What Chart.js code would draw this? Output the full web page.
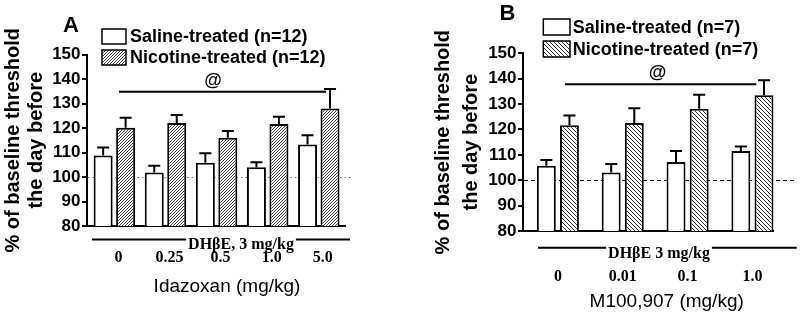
<!DOCTYPE html>
<html>
<head>
<meta charset="utf-8">
<script src="https://cdn.jsdelivr.net/npm/chart.js@4"></script>
<style>
  html, body { margin: 0; padding: 0; background: #fff; }
  .panel { position: absolute; top: 0; width: 400px; height: 314px; }
</style>
</head>
<body>
<div class="panel" style="left:0"><canvas id="chartA" width="400" height="314"></canvas></div>
<div class="panel" style="left:400px"><canvas id="chartB" width="400" height="314"></canvas></div>
<script>
// panel A: idazoxan
const dosesA = ['0', '0.25', '0.5', '1.0', '5.0'];
const salineA = [108.8, 101.8, 105.8, 104, 113.3];
const salineSemA = [3.2, 2.8, 3.9, 2, 3.7];
const nicotineA = [120.1, 122, 116, 121.6, 128];
const nicotineSemA = [4.1, 3.3, 2.8, 3, 7.9];

// panel B: M100,907
const dosesB = ['0', '0.01', '0.1', '1.0'];
const salineB = [105.7, 103, 107.2, 111.5];
const salineSemB = [2.3, 3.4, 4.3, 1.8];
const nicotineB = [121.7, 122.5, 128.2, 133.5];
const nicotineSemB = [3.8, 5.9, 5.5, 5.9];

const yMin = 80, yMax = 150, yStep = 10;

const SANS = "Arial, 'Liberation Sans', sans-serif";
const SERIF = "'Times New Roman', 'Liberation Serif', serif";

function hatch(dir, size, color) {
  const c = document.createElement('canvas');
  c.width = size; c.height = size;
  const g = c.getContext('2d');
  g.fillStyle = '#fff';
  g.fillRect(0, 0, size, size);
  g.fillStyle = color;
  for (let i = 0; i < size; i++) {
    g.fillRect(i, dir === '/' ? size - 1 - i : i, 1, 1);
  }
  return g.createPattern(c, 'repeat');
}

function makeDecor(p) {
  return {
    id: 'decor',
    beforeDatasetsDraw(chart) {
      const {ctx, chartArea: a, scales: {y}} = chart;
      const py = Math.round(y.getPixelForValue(100)) + 0.5;
      ctx.save();
      ctx.strokeStyle = p.ref.color;
      ctx.lineWidth = 1;
      ctx.setLineDash(p.ref.dash);
      ctx.beginPath();
      ctx.moveTo(a.left + 1, py);
      ctx.lineTo(p.ref.right, py);
      ctx.stroke();
      ctx.restore();
    },
    afterDatasetsDraw(chart) {
      const {ctx, scales: {y}} = chart;
      ctx.save();
      ctx.strokeStyle = '#000';
      ctx.lineWidth = 2;
      chart.data.datasets.forEach((ds, i) => {
        chart.getDatasetMeta(i).data.forEach((bar, j) => {
          const top = y.getPixelForValue(ds.data[j].y + ds.sem[j]);
          ctx.beginPath();
          ctx.moveTo(bar.x, bar.y);
          ctx.lineTo(bar.x, top);
          ctx.moveTo(bar.x - 6, top);
          ctx.lineTo(bar.x + 6, top);
          ctx.stroke();
        });
      });
      ctx.restore();
    },
    afterDraw(chart) {
      const {ctx, scales: {x, y}} = chart;
      ctx.save();
      ctx.fillStyle = '#000';
      ctx.strokeStyle = '#000';

      // panel letter
      ctx.font = 'bold 22px ' + SANS;
      ctx.textAlign = 'center';
      ctx.textBaseline = 'middle';
      ctx.fillText(p.letter.text, p.letter.x, p.letter.y);

      // legend
      const lg = p.legend;
      chart.data.datasets.forEach((ds, i) => {
        const ly = lg.y[i];
        ctx.fillStyle = ds.backgroundColor;
        ctx.fillRect(lg.x, ly, lg.w, lg.h);
        ctx.lineWidth = 1.5;
        ctx.strokeRect(lg.x, ly, lg.w, lg.h);
        ctx.fillStyle = '#000';
        ctx.font = 'bold 18px ' + SANS;
        ctx.textAlign = 'left';
        ctx.fillText(ds.label, lg.textX, ly + lg.h / 2 + 1);
      });

      // significance line
      const sy = y.getPixelForValue(p.sig.y);
      ctx.lineWidth = 2;
      ctx.beginPath();
      ctx.moveTo(x.getPixelForValue(p.sig.from), sy);
      ctx.lineTo(x.getPixelForValue(p.sig.to), sy);
      ctx.stroke();
      ctx.font = 'bold 18px ' + SANS;
      ctx.textAlign = 'center';
      ctx.textBaseline = 'bottom';
      ctx.fillText('@', x.getPixelForValue(p.sig.at), sy - 2);

      // DHbE bracket
      const d = p.dhbe;
      ctx.font = 'bold 16px ' + SERIF;
      const tw = ctx.measureText(d.text).width;
      ctx.lineWidth = 2;
      ctx.beginPath();
      ctx.moveTo(d.x1, d.y);
      ctx.lineTo(d.cx - tw / 2 - 2, d.y);
      ctx.moveTo(d.cx + tw / 2 + 2, d.y);
      ctx.lineTo(d.x2, d.y);
      ctx.stroke();
      ctx.textBaseline = 'middle';
      ctx.fillText(d.text, d.cx, d.ty);

      // x axis title
      ctx.font = '19px ' + SANS;
      ctx.fillText(p.xTitle.text, p.xTitle.x, p.xTitle.y);
      ctx.restore();
    }
  };
}

function makePanel(id, p) {
  const ctx = document.getElementById(id).getContext('2d');
  const common = {
    borderColor: '#000',
    borderWidth: 2,
    borderSkipped: false,
    categoryPercentage: p.catPct,
    barPercentage: p.barPct
  };
  return new Chart(ctx, {
    type: 'bar',
    data: {
      datasets: [
        Object.assign({
          label: p.labels[0],
          data: p.saline.map((v, i) => ({x: i, y: v})),
          sem: p.salineSem,
          backgroundColor: '#fff'
        }, common),
        Object.assign({
          label: p.labels[1],
          data: p.nicotine.map((v, i) => ({x: i, y: v})),
          sem: p.nicotineSem,
          backgroundColor: p.pattern
        }, common)
      ]
    },
    options: {
      responsive: false,
      animation: false,
      events: [],
      layout: {padding: {left: 0, top: p.area.top, right: 400 - p.area.right, bottom: 0}},
      plugins: {legend: {display: false}, tooltip: {enabled: false}},
      scales: {
        x: {
          type: 'linear',
          offset: false,
          min: p.xMin,
          max: p.xMax,
          afterBuildTicks: s => { s.ticks = p.doses.map((d, i) => ({value: i})); },
          afterFit: s => { s.height = 314 - p.area.bottom; },
          grid: {display: false, drawTicks: false},
          border: {color: '#000', width: 2},
          ticks: {
            autoSkip: false,
            maxRotation: 0,
            padding: p.tickPad,
            labelOffset: p.labelOffset,
            color: '#000',
            font: {family: SERIF, weight: 'bold', size: 16},
            callback: v => p.doses[Math.round(v)]
          }
        },
        y: {
          min: yMin,
          max: yMax,
          afterFit: s => { s.width = p.area.left; },
          grid: {drawOnChartArea: false, drawTicks: true, tickLength: 5, color: '#000', lineWidth: 2},
          border: {color: '#000', width: 2},
          ticks: {
            stepSize: yStep,
            padding: 1.5,
            color: '#000',
            font: {family: SANS, weight: 'bold', size: 17}
          },
          title: {
            display: true,
            text: ['% of baseline threshold', 'the day before'],
            color: '#000',
            font: {family: SANS, weight: 'bold', size: 20, lineHeight: p.titleLH},
            padding: {top: p.titlePad, bottom: 0}
          }
        }
      }
    },
    plugins: [makeDecor(p)]
  });
}

makePanel('chartA', {
  doses: dosesA,
  saline: salineA, salineSem: salineSemA,
  nicotine: nicotineA, nicotineSem: nicotineSemA,
  labels: ['Saline-treated (n=12)', 'Nicotine-treated (n=12)'],
  pattern: hatch('/', 3, '#444'),
  area: {left: 87, top: 54.5, right: 345, bottom: 226},
  xMin: -0.536, xMax: 4.513,
  catPct: 0.88, barPct: 0.845,
  tickPad: 22, labelOffset: 4,
  titleLH: 1.15, titlePad: 1.5,
  ref: {color: '#777', dash: [1.5, 3], right: 352},
  sig: {from: 0.09, to: 4.14, at: 1.93, y: 134.8},
  dhbe: {text: 'DH\u03b2E, 3 mg/kg', x1: 92, x2: 350, y: 239.5, cx: 241, ty: 245},
  xTitle: {text: 'Idazoxan (mg/kg)', x: 227, y: 287},
  letter: {text: 'A', x: 71, y: 26},
  legend: {x: 102, y: [29, 50], w: 24, h: 15, textX: 130}
});

makePanel('chartB', {
  doses: dosesB,
  saline: salineB, salineSem: salineSemB,
  nicotine: nicotineB, nicotineSem: nicotineSemB,
  labels: ['Saline-treated (n=7)', 'Nicotine-treated (n=7)'],
  pattern: hatch('\\', 4, '#333'),
  area: {left: 123, top: 53.3, right: 381.7, bottom: 231},
  xMin: -0.538, xMax: 3.332,
  catPct: 0.713, barPct: 0.82,
  tickPad: 36, labelOffset: 0,
  titleLH: 1.375, titlePad: 30,
  ref: {color: '#000', dash: [4, 3], right: 395},
  sig: {from: 0.11, to: 3.06, at: 1.535, y: 137.8},
  dhbe: {text: 'DH\u03b2E 3 mg/kg', x1: 138, x2: 396.7, y: 247.7, cx: 259, ty: 254},
  xTitle: {text: 'M100,907 (mg/kg)', x: 266.7, y: 301.7},
  letter: {text: 'B', x: 107.5, y: 13.5},
  legend: {x: 143.3, y: [19, 41], w: 26.7, h: 16, textX: 172.7}
});
</script>
</body>
</html>
